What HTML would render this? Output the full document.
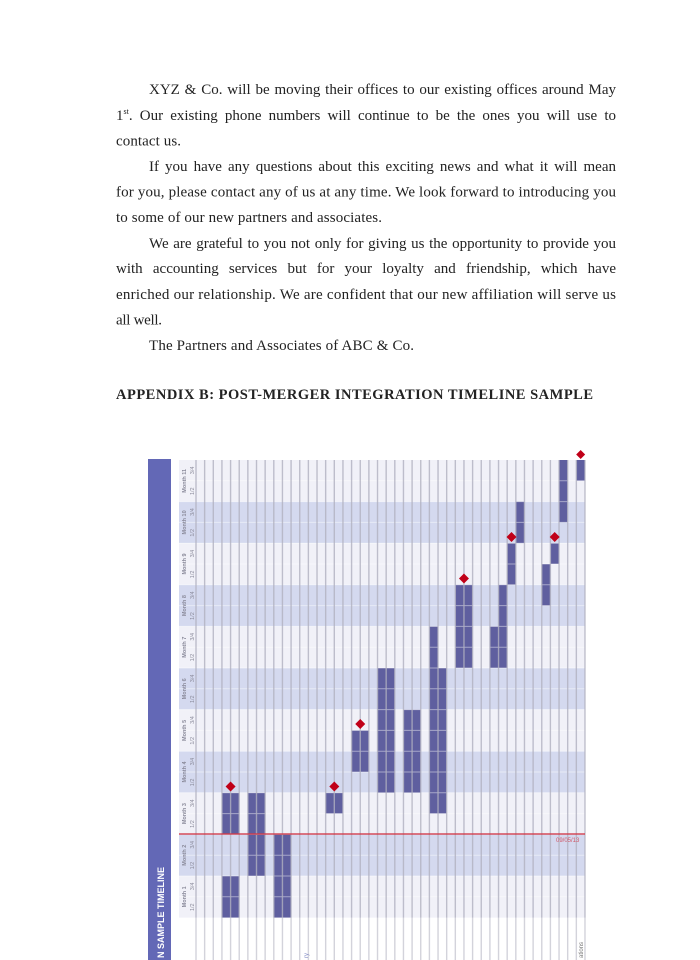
<!DOCTYPE html>
<html>
<head>
<meta charset="utf-8">
<style>
html,body{margin:0;padding:0;background:#fff;width:700px;height:960px;overflow:hidden}
body{position:relative}
svg{display:block;position:absolute;left:0;top:0}
.ln{position:absolute;font-family:"Liberation Serif",serif;font-size:15px;line-height:20px;height:20px;color:#222;text-align:justify;text-align-last:justify;overflow:visible}
.sup{font-size:8px;position:relative;top:-6px;line-height:0}
</style>
</head>
<body>
<svg width="700" height="960" viewBox="0 0 700 960" xmlns="http://www.w3.org/2000/svg">
  <defs>
    <clipPath id="sideclip"><rect x="148" y="459" width="23" height="501"/></clipPath>
  </defs>
  <rect x="0" y="0" width="700" height="960" fill="#fff"/>

  <!-- Body text (non-stretched lines) -->
  <g font-family="'Liberation Serif', serif" font-size="15" fill="#222">
    <text x="116" y="145.5" textLength="65" lengthAdjust="spacing">contact us.</text>
    <text x="116" y="196.5" textLength="500" lengthAdjust="spacing">for you, please contact any of us at any time. We look forward to introducing you</text>
    <text x="116" y="222" textLength="266" lengthAdjust="spacing">to some of our new partners and associates.</text>
    <text x="116" y="299" textLength="500" lengthAdjust="spacing">enriched our relationship. We are confident that our new affiliation will serve us</text>
    <text x="116" y="324.5" textLength="46" lengthAdjust="spacing">all well.</text>
    <text x="149" y="350" textLength="265" lengthAdjust="spacing">The Partners and Associates of ABC &amp; Co.</text>
    <text x="116" y="399" font-weight="bold" font-size="14.5" textLength="477" lengthAdjust="spacing">APPENDIX B: POST-MERGER INTEGRATION  TIMELINE  SAMPLE</text>
  </g>

  <!-- Side title bar -->
  <rect x="148" y="459" width="23" height="501" fill="#6368b6"/>
  <g clip-path="url(#sideclip)">
    <text transform="translate(164,867) rotate(-90)" text-anchor="end" font-family="'Liberation Sans', sans-serif" font-size="9" font-weight="bold" fill="#fff">N SAMPLE TIMELINE</text>
  </g>

  <!-- Month bands -->
  <g>
    <rect x="179" y="460" width="406" height="41.6" fill="#f1f1f8"/>
    <rect x="179" y="501.6" width="406" height="41.6" fill="#d4d9ef"/>
    <rect x="179" y="543.2" width="406" height="41.6" fill="#f1f1f8"/>
    <rect x="179" y="584.8" width="406" height="41.6" fill="#d4d9ef"/>
    <rect x="179" y="626.4" width="406" height="41.6" fill="#f1f1f8"/>
    <rect x="179" y="668" width="406" height="41.6" fill="#d4d9ef"/>
    <rect x="179" y="709.6" width="406" height="41.6" fill="#f1f1f8"/>
    <rect x="179" y="751.2" width="406" height="41.6" fill="#d4d9ef"/>
    <rect x="179" y="792.8" width="406" height="41.6" fill="#f1f1f8"/>
    <rect x="179" y="834.4" width="406" height="41.6" fill="#d4d9ef"/>
    <rect x="179" y="876" width="406" height="41.6" fill="#f1f1f8"/>
  </g>

  <!-- Task bars -->
  <g fill="#5f5f9f">
    <rect x="221.93" y="792.8" width="17.29" height="41.6"/>
    <rect x="221.93" y="876" width="17.29" height="41.6"/>
    <rect x="247.86" y="792.8" width="17.29" height="83.2"/>
    <rect x="273.80" y="834.4" width="17.29" height="83.2"/>
    <rect x="325.66" y="792.8" width="17.29" height="20.8"/>
    <rect x="351.59" y="730.4" width="17.29" height="41.6"/>
    <rect x="377.52" y="668" width="17.29" height="124.8"/>
    <rect x="403.46" y="709.6" width="17.29" height="83.2"/>
    <rect x="429.39" y="626.4" width="8.64" height="187.2"/>
    <rect x="438.03" y="668" width="8.64" height="145.6"/>
    <rect x="455.32" y="584.8" width="17.29" height="83.2"/>
    <rect x="489.90" y="626.4" width="8.64" height="41.6"/>
    <rect x="498.54" y="584.8" width="8.64" height="83.2"/>
    <rect x="507.18" y="543.2" width="8.64" height="41.6"/>
    <rect x="515.83" y="501.6" width="8.64" height="41.6"/>
    <rect x="541.76" y="564" width="8.64" height="41.6"/>
    <rect x="550.40" y="543.2" width="8.64" height="20.8"/>
    <rect x="559.05" y="460" width="8.64" height="62.4"/>
    <rect x="576.34" y="460" width="8.64" height="20.8"/>
  </g>

  <!-- Horizontal half-row lines -->
  <path d="M179 480.8H585M179 501.6H585M179 522.4H585M179 543.2H585M179 564H585M179 584.8H585M179 605.6H585M179 626.4H585M179 647.2H585M179 668H585M179 688.8H585M179 709.6H585M179 730.4H585M179 751.2H585M179 772H585M179 792.8H585M179 813.6H585M179 834.4H585M179 855.2H585M179 876H585M179 896.8H585" stroke="#ffffff" stroke-opacity="0.45" stroke-width="1" fill="none"/>

  <!-- Vertical column lines -->
  <path d="M196 460V960M204.64 460V960M213.29 460V960M221.93 460V960M230.58 460V960M239.22 460V960M247.86 460V960M256.51 460V960M265.15 460V960M273.80 460V960M282.44 460V960M291.08 460V960M299.73 460V960M308.37 460V960M317.02 460V960M325.66 460V960M334.30 460V960M342.95 460V960M351.59 460V960M360.24 460V960M368.88 460V960M377.52 460V960M386.17 460V960M394.81 460V960M403.46 460V960M412.10 460V960M420.74 460V960M429.39 460V960M438.03 460V960M446.68 460V960M455.32 460V960M463.96 460V960M472.61 460V960M481.25 460V960M489.90 460V960M498.54 460V960M507.18 460V960M515.83 460V960M524.47 460V960M533.12 460V960M541.76 460V960M550.40 460V960M559.05 460V960M567.69 460V960M576.34 460V960M584.98 460V960" stroke="#b0b0bf" stroke-opacity="0.8" stroke-width="1.4" fill="none"/>

  <!-- lighten label area below grid -->
  <rect x="179" y="917.6" width="410" height="42.4" fill="#fff" fill-opacity="0.3"/>

  <!-- Red today line -->
  <line x1="179" y1="834" x2="585" y2="834" stroke="#d03848" stroke-width="1.5" stroke-opacity="0.9"/>
  <text x="556" y="842" font-family="'Liberation Sans', sans-serif" font-size="6" fill="#d05868">09/05/13</text>

  <!-- Milestone diamonds -->
  <g fill="#c00018">
    <polygon points="230.58,781.5 235.58,786.5 230.58,791.5 225.58,786.5"/>
    <polygon points="334.3,781.5 339.3,786.5 334.3,791.5 329.3,786.5"/>
    <polygon points="360.24,719 365.24,724 360.24,729 355.24,724"/>
    <polygon points="463.96,573.5 468.96,578.5 463.96,583.5 458.96,578.5"/>
    <polygon points="511.5,532 516.5,537 511.5,542 506.5,537"/>
    <polygon points="554.7,532 559.7,537 554.7,542 549.7,537"/>
    <polygon points="580.66,450 585.16,454.5 580.66,459 576.16,454.5"/>
  </g>

  <!-- Month labels -->
  <g font-family="'Liberation Sans', sans-serif" font-size="5.5" font-weight="bold" fill="#8a8a9a" text-anchor="middle">
    <text transform="translate(186,480.8) rotate(-90)">Month 11</text>
    <text transform="translate(186,522.4) rotate(-90)">Month 10</text>
    <text transform="translate(186,564) rotate(-90)">Month 9</text>
    <text transform="translate(186,605.6) rotate(-90)">Month 8</text>
    <text transform="translate(186,647.2) rotate(-90)">Month 7</text>
    <text transform="translate(186,688.8) rotate(-90)">Month 6</text>
    <text transform="translate(186,730.4) rotate(-90)">Month 5</text>
    <text transform="translate(186,772) rotate(-90)">Month 4</text>
    <text transform="translate(186,813.6) rotate(-90)">Month 3</text>
    <text transform="translate(186,855.2) rotate(-90)">Month 2</text>
    <text transform="translate(186,896.8) rotate(-90)">Month 1</text>
  </g>
  <g font-family="'Liberation Sans', sans-serif" font-size="5.5" fill="#8a8a9a" text-anchor="middle">
    <text transform="translate(194,470.4) rotate(-90)">3/4</text>
    <text transform="translate(194,491.2) rotate(-90)">1/2</text>
    <text transform="translate(194,512) rotate(-90)">3/4</text>
    <text transform="translate(194,532.8) rotate(-90)">1/2</text>
    <text transform="translate(194,553.6) rotate(-90)">3/4</text>
    <text transform="translate(194,574.4) rotate(-90)">1/2</text>
    <text transform="translate(194,595.2) rotate(-90)">3/4</text>
    <text transform="translate(194,616) rotate(-90)">1/2</text>
    <text transform="translate(194,636.8) rotate(-90)">3/4</text>
    <text transform="translate(194,657.6) rotate(-90)">1/2</text>
    <text transform="translate(194,678.4) rotate(-90)">3/4</text>
    <text transform="translate(194,699.2) rotate(-90)">1/2</text>
    <text transform="translate(194,720) rotate(-90)">3/4</text>
    <text transform="translate(194,740.8) rotate(-90)">1/2</text>
    <text transform="translate(194,761.6) rotate(-90)">3/4</text>
    <text transform="translate(194,782.4) rotate(-90)">1/2</text>
    <text transform="translate(194,803.2) rotate(-90)">3/4</text>
    <text transform="translate(194,824) rotate(-90)">1/2</text>
    <text transform="translate(194,844.8) rotate(-90)">3/4</text>
    <text transform="translate(194,865.6) rotate(-90)">1/2</text>
    <text transform="translate(194,886.4) rotate(-90)">3/4</text>
    <text transform="translate(194,907.2) rotate(-90)">1/2</text>
  </g>

  <!-- Task labels (cut off at bottom) -->
  <g font-family="'Liberation Sans', sans-serif" font-size="6">
    <text transform="translate(308,958) rotate(-90)" fill="#8890c8">ry</text>
    <text transform="translate(583,958) rotate(-90)" fill="#777">ations</text>
  </g>
</svg>

<!-- Justified lines with word spacing -->
<div class="ln" style="left:149px;top:80.4px;width:467px">XYZ &amp; Co. will be moving their offices to our existing offices around May</div>
<div class="ln" style="left:116px;top:105.9px;width:500px">1<span class="sup">st</span>. Our existing phone numbers will continue to be the ones you will use to</div>
<div class="ln" style="left:149px;top:156.9px;width:467px">If you have any questions about this exciting news and what it will mean</div>
<div class="ln" style="left:149px;top:233.7px;width:467px">We are grateful to you not only for giving us the opportunity to provide you</div>
<div class="ln" style="left:116px;top:259.4px;width:500px">with accounting services but for your loyalty and friendship, which have</div>
</body>
</html>
